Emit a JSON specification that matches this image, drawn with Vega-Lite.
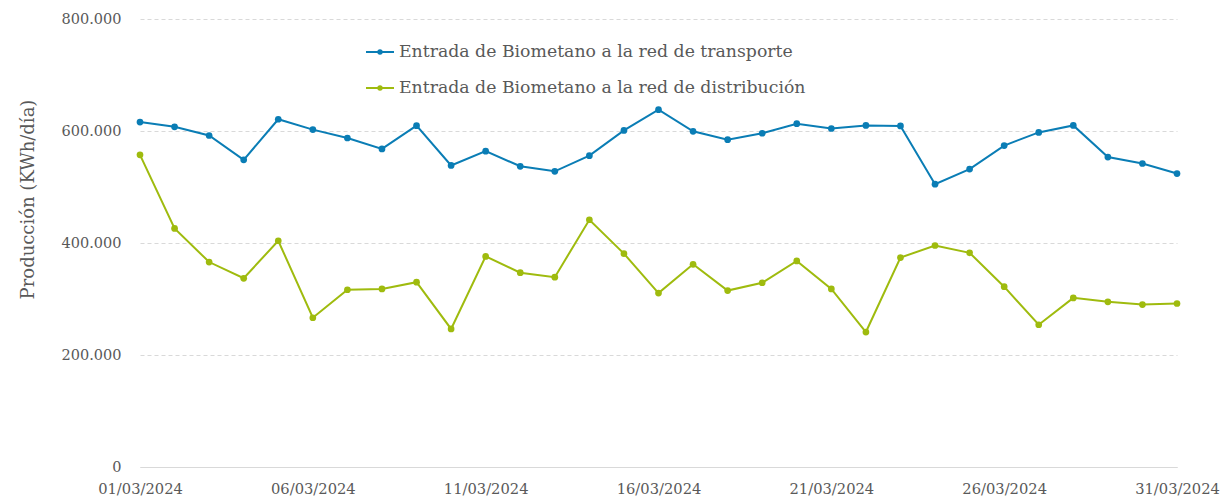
{
  "$schema": "https://vega.github.io/schema/vega-lite/v6.json",
  "width": 1037,
  "height": 448,
  "autosize": {"type": "none"},
  "padding": {"left": 140, "top": 19, "right": 49, "bottom": 33},
  "background": "white",
  "config": {
    "view": {"stroke": null},
    "font": "DejaVu Serif"
  },
  "data": {
    "values": [
      {"fecha": "01/03/2024", "serie": "Entrada de Biometano a la red de transporte", "valor": 616000},
      {"fecha": "02/03/2024", "serie": "Entrada de Biometano a la red de transporte", "valor": 607500},
      {"fecha": "03/03/2024", "serie": "Entrada de Biometano a la red de transporte", "valor": 592000},
      {"fecha": "04/03/2024", "serie": "Entrada de Biometano a la red de transporte", "valor": 548500},
      {"fecha": "05/03/2024", "serie": "Entrada de Biometano a la red de transporte", "valor": 621000},
      {"fecha": "06/03/2024", "serie": "Entrada de Biometano a la red de transporte", "valor": 602500},
      {"fecha": "07/03/2024", "serie": "Entrada de Biometano a la red de transporte", "valor": 587500},
      {"fecha": "08/03/2024", "serie": "Entrada de Biometano a la red de transporte", "valor": 568000},
      {"fecha": "09/03/2024", "serie": "Entrada de Biometano a la red de transporte", "valor": 609500},
      {"fecha": "10/03/2024", "serie": "Entrada de Biometano a la red de transporte", "valor": 538500},
      {"fecha": "11/03/2024", "serie": "Entrada de Biometano a la red de transporte", "valor": 564000},
      {"fecha": "12/03/2024", "serie": "Entrada de Biometano a la red de transporte", "valor": 537000},
      {"fecha": "13/03/2024", "serie": "Entrada de Biometano a la red de transporte", "valor": 528000},
      {"fecha": "14/03/2024", "serie": "Entrada de Biometano a la red de transporte", "valor": 556000},
      {"fecha": "15/03/2024", "serie": "Entrada de Biometano a la red de transporte", "valor": 601000},
      {"fecha": "16/03/2024", "serie": "Entrada de Biometano a la red de transporte", "valor": 638000},
      {"fecha": "17/03/2024", "serie": "Entrada de Biometano a la red de transporte", "valor": 599500},
      {"fecha": "18/03/2024", "serie": "Entrada de Biometano a la red de transporte", "valor": 584500},
      {"fecha": "19/03/2024", "serie": "Entrada de Biometano a la red de transporte", "valor": 596000},
      {"fecha": "20/03/2024", "serie": "Entrada de Biometano a la red de transporte", "valor": 613000},
      {"fecha": "21/03/2024", "serie": "Entrada de Biometano a la red de transporte", "valor": 604500},
      {"fecha": "22/03/2024", "serie": "Entrada de Biometano a la red de transporte", "valor": 610000},
      {"fecha": "23/03/2024", "serie": "Entrada de Biometano a la red de transporte", "valor": 609000},
      {"fecha": "24/03/2024", "serie": "Entrada de Biometano a la red de transporte", "valor": 505000},
      {"fecha": "25/03/2024", "serie": "Entrada de Biometano a la red de transporte", "valor": 532000},
      {"fecha": "26/03/2024", "serie": "Entrada de Biometano a la red de transporte", "valor": 574000},
      {"fecha": "27/03/2024", "serie": "Entrada de Biometano a la red de transporte", "valor": 597500},
      {"fecha": "28/03/2024", "serie": "Entrada de Biometano a la red de transporte", "valor": 610000},
      {"fecha": "29/03/2024", "serie": "Entrada de Biometano a la red de transporte", "valor": 553500},
      {"fecha": "30/03/2024", "serie": "Entrada de Biometano a la red de transporte", "valor": 542000},
      {"fecha": "31/03/2024", "serie": "Entrada de Biometano a la red de transporte", "valor": 524000},
      {"fecha": "01/03/2024", "serie": "Entrada de Biometano a la red de distribución", "valor": 557500},
      {"fecha": "02/03/2024", "serie": "Entrada de Biometano a la red de distribución", "valor": 426000},
      {"fecha": "03/03/2024", "serie": "Entrada de Biometano a la red de distribución", "valor": 366000},
      {"fecha": "04/03/2024", "serie": "Entrada de Biometano a la red de distribución", "valor": 337000},
      {"fecha": "05/03/2024", "serie": "Entrada de Biometano a la red de distribución", "valor": 404000},
      {"fecha": "06/03/2024", "serie": "Entrada de Biometano a la red de distribución", "valor": 266500},
      {"fecha": "07/03/2024", "serie": "Entrada de Biometano a la red de distribución", "valor": 316500},
      {"fecha": "08/03/2024", "serie": "Entrada de Biometano a la red de distribución", "valor": 318000},
      {"fecha": "09/03/2024", "serie": "Entrada de Biometano a la red de distribución", "valor": 330000},
      {"fecha": "10/03/2024", "serie": "Entrada de Biometano a la red de distribución", "valor": 246500},
      {"fecha": "11/03/2024", "serie": "Entrada de Biometano a la red de distribución", "valor": 376000},
      {"fecha": "12/03/2024", "serie": "Entrada de Biometano a la red de distribución", "valor": 347000},
      {"fecha": "13/03/2024", "serie": "Entrada de Biometano a la red de distribución", "valor": 339000},
      {"fecha": "14/03/2024", "serie": "Entrada de Biometano a la red de distribución", "valor": 441500},
      {"fecha": "15/03/2024", "serie": "Entrada de Biometano a la red de distribución", "valor": 381000},
      {"fecha": "16/03/2024", "serie": "Entrada de Biometano a la red de distribución", "valor": 310500},
      {"fecha": "17/03/2024", "serie": "Entrada de Biometano a la red de distribución", "valor": 362000},
      {"fecha": "18/03/2024", "serie": "Entrada de Biometano a la red de distribución", "valor": 315000},
      {"fecha": "19/03/2024", "serie": "Entrada de Biometano a la red de distribución", "valor": 329000},
      {"fecha": "20/03/2024", "serie": "Entrada de Biometano a la red de distribución", "valor": 368000},
      {"fecha": "21/03/2024", "serie": "Entrada de Biometano a la red de distribución", "valor": 318000},
      {"fecha": "22/03/2024", "serie": "Entrada de Biometano a la red de distribución", "valor": 241000},
      {"fecha": "23/03/2024", "serie": "Entrada de Biometano a la red de distribución", "valor": 374000},
      {"fecha": "24/03/2024", "serie": "Entrada de Biometano a la red de distribución", "valor": 395500},
      {"fecha": "25/03/2024", "serie": "Entrada de Biometano a la red de distribución", "valor": 382500},
      {"fecha": "26/03/2024", "serie": "Entrada de Biometano a la red de distribución", "valor": 322000},
      {"fecha": "27/03/2024", "serie": "Entrada de Biometano a la red de distribución", "valor": 254000},
      {"fecha": "28/03/2024", "serie": "Entrada de Biometano a la red de distribución", "valor": 302000},
      {"fecha": "29/03/2024", "serie": "Entrada de Biometano a la red de distribución", "valor": 295000},
      {"fecha": "30/03/2024", "serie": "Entrada de Biometano a la red de distribución", "valor": 290000},
      {"fecha": "31/03/2024", "serie": "Entrada de Biometano a la red de distribución", "valor": 292000}
    ]
  },
  "mark": {"type": "line", "strokeWidth": 2, "point": {"filled": true, "size": 45, "opacity": 1}},
  "encoding": {
    "x": {
      "field": "fecha",
      "type": "ordinal",
      "sort": "ascending",
      "scale": {"type": "point", "padding": 0},
      "axis": {
        "title": null,
        "values": ["01/03/2024", "06/03/2024", "11/03/2024", "16/03/2024", "21/03/2024", "26/03/2024", "31/03/2024"],
        "labelAngle": 0,
        "labelFont": "DejaVu Serif",
        "labelFontSize": 14.7,
        "labelColor": "#595959",
        "labelPadding": 14,
        "ticks": false,
        "domain": true,
        "domainColor": "#d9d9d9",
        "domainWidth": 1,
        "grid": false
      }
    },
    "y": {
      "field": "valor",
      "type": "quantitative",
      "scale": {"domain": [0, 800000], "nice": false, "zero": true},
      "axis": {
        "title": "Producción (KWh/día)",
        "titleFont": "DejaVu Serif",
        "titleFontSize": 18,
        "titleFontWeight": "normal",
        "titleColor": "#595959",
        "titleAngle": -90,
        "titleAlign": "center",
        "titleBaseline": "alphabetic",
        "titleX": -107,
        "titleY": 180,
        "values": [0, 200000, 400000, 600000, 800000],
        "labelExpr": "datum.value == 0 ? '0' : format(datum.value / 1000, 'd') + '.000'",
        "labelFont": "DejaVu Serif",
        "labelFontSize": 14.5,
        "labelColor": "#595959",
        "labelPadding": 19,
        "ticks": false,
        "domain": false,
        "grid": true,
        "gridColor": "#d9d9d9",
        "gridDash": [4, 3],
        "gridWidth": 1
      }
    },
    "color": {
      "field": "serie",
      "type": "nominal",
      "scale": {
        "domain": ["Entrada de Biometano a la red de transporte", "Entrada de Biometano a la red de distribución"],
        "range": ["#0a7db5", "#9fbb0e"]
      },
      "legend": {
        "title": null,
        "orient": "none",
        "legendX": 225,
        "legendY": 18,
        "padding": 0,
        "symbolType": "M-1,0L1,0M-0.12,0A0.12,0.12,0,1,1,0.12,0A0.12,0.12,0,1,1,-0.12,0",
        "symbolSize": 784,
        "symbolStrokeWidth": 2,
        "labelFont": "DejaVu Serif",
        "labelFontSize": 17.3,
        "labelColor": "#595959",
        "labelOffset": 4,
        "labelLimit": 600,
        "rowPadding": 12
      }
    }
  }
}
